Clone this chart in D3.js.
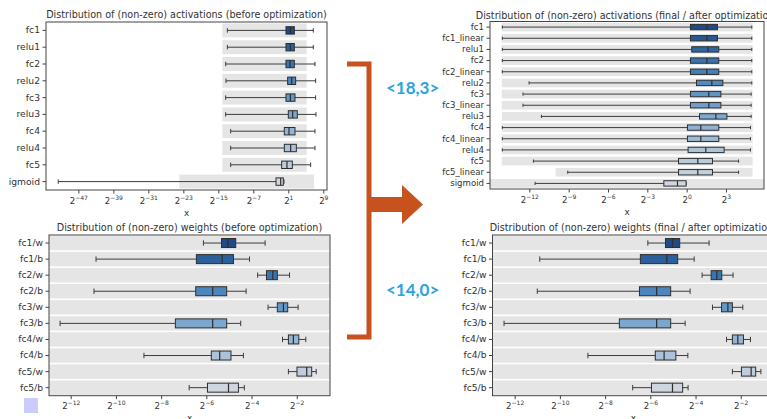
<!doctype html>
<html lang="en">
<head>
<meta charset="utf-8">
<title>non-zero activations / weights before and after optimization</title>
<script src="https://cdn.jsdelivr.net/npm/d3@7"></script>
<style>
  body { margin: 0; background: #fff; }
  svg { display: block; font-family: "DejaVu Sans", sans-serif; }
  .frame { fill: none; stroke: #444; stroke-width: 1; }
  .band { fill: #e5e5e5; }
  .whisker { stroke: #3c3c3c; stroke-width: 1; }
  .box { stroke: #2e2e2e; stroke-width: 1; }
  .median { stroke: #2e2e2e; stroke-width: 1.2; }
  .title, .xlabel { fill: #333; }
  .tick text { fill: #333; }
  .tick line { stroke: #444; }
</style>
</head>
<body>
<svg></svg>
<script>
var width = 767;
var height = 419;

// all values are log2 of the value (the axes are log base 2)

// activations, before optimization
var actBeforeNames = ["fc1", "relu1", "fc2", "relu2", "fc3", "relu3", "fc4", "relu4", "fc5", "igmoid"];
var actBeforeLo = [-12.93, -12.93, -13.32, -13.24, -13.32, -13.32, -12.17, -12.17, -12.17, -51.6];
var actBeforeQ1 = [0.47, 0.47, 0.47, 0.85, 0.47, 1.0, 0.09, 0.09, -0.52, -1.81];
var actBeforeMed = [1.47, 1.47, 1.39, 1.77, 1.47, 2.0, 1.16, 1.54, 0.7, -0.74];
var actBeforeQ3 = [2.38, 2.38, 2.38, 2.68, 2.53, 3.06, 2.53, 2.84, 1.92, -0.14];
var actBeforeHi = [6.72, 6.72, 7.1, 7.25, 7.25, 7.33, 7.1, 7.1, 6.11, 0.02];
var actBeforeRangeLo = [-14.08, -14.08, -14.08, -14.08, -14.08, -14.08, -14.08, -14.08, -14.08, -23.9];
var actBeforeRangeHi = [5.2, 5.2, 5.2, 5.2, 5.2, 5.2, 5.2, 5.2, 5.2, 6.9];
var actBeforeTicks = [-47, -39, -31, -23, -15, -7, 1, 9];

// activations, final / after optimization
var actAfterNames = ["fc1", "fc1_linear", "relu1", "fc2", "fc2_linear", "relu2", "fc3", "fc3_linear",
    "relu3", "fc4", "fc4_linear", "relu4", "fc5", "fc5_linear", "sigmoid"];
var actAfterLo = [-14.06, -14.06, -14.06, -14.06, -14.06, -12.02, -12.48, -12.48, -11.08, -14.06, -14.06, -14.06, -11.69, -9.07, -11.56];
var actAfterQ1 = [0.29, 0.29, 0.39, 0.29, 0.29, 0.75, 0.29, 0.29, 0.98, 0.06, 0.06, 0.11, -0.62, -0.62, -1.74];
var actAfterMed = [1.54, 1.54, 1.62, 1.54, 1.54, 1.92, 1.69, 1.69, 2.23, 1.08, 1.08, 1.46, 0.85, 0.85, -0.7];
var actAfterQ3 = [2.35, 2.35, 2.45, 2.45, 2.45, 2.76, 2.61, 2.61, 3.07, 2.45, 2.45, 2.86, 1.97, 1.97, -0.04];
var actAfterHi = [4.97, 4.97, 4.97, 4.97, 4.97, 4.97, 4.92, 4.92, 4.92, 4.87, 4.87, 4.87, 3.96, 3.96, -0.04];
var actAfterRangeLo = [-14.1, -14.1, -14.1, -14.1, -14.1, -14.1, -14.1, -14.1, -14.1, -14.1, -14.1, -14.1, -14.1, -10.0, -15.0];
var actAfterRangeHi = [5.03, 5.03, 5.03, 5.03, 5.03, 5.03, 5.03, 5.03, 5.03, 5.03, 5.03, 5.03, 5.03, 5.03, 5.9];
var actAfterTicks = [-12, -9, -6, -3, 0, 3];

// weights, before optimization
var wNames = ["fc1/w", "fc1/b", "fc2/w", "fc2/b", "fc3/w", "fc3/b", "fc4/w", "fc4/b", "fc5/w", "fc5/b"];
var wBeforeLo = [-6.13, -10.88, -3.73, -10.97, -3.27, -12.47, -2.63, -8.76, -2.37, -6.76];
var wBeforeQ1 = [-5.33, -6.44, -3.34, -6.47, -2.86, -7.37, -2.37, -5.78, -1.99, -5.95];
var wBeforeMed = [-5.05, -5.30, -3.06, -5.72, -2.59, -5.72, -2.15, -5.41, -1.56, -5.02];
var wBeforeQ3 = [-4.70, -4.80, -2.86, -5.10, -2.40, -5.10, -1.91, -4.91, -1.34, -4.58];
var wBeforeHi = [-3.40, -4.09, -2.32, -4.24, -1.94, -4.48, -1.60, -4.36, -1.14, -4.32];

// weights, final / after optimization
var wAfterLo = [-6.11, -10.89, -3.71, -11.0, -3.25, -12.47, -2.63, -8.76, -2.37, -6.78];
var wAfterQ1 = [-5.33, -6.44, -3.31, -6.48, -2.85, -7.37, -2.37, -5.78, -1.97, -5.95];
var wAfterMed = [-5.02, -5.27, -3.06, -5.72, -2.57, -5.72, -2.13, -5.39, -1.54, -5.02];
var wAfterQ3 = [-4.70, -4.79, -2.84, -5.10, -2.37, -5.10, -1.88, -4.87, -1.34, -4.57];
var wAfterHi = [-3.40, -4.06, -2.34, -4.24, -1.91, -4.46, -1.57, -4.34, -1.11, -4.33];
var wTicks = [-12, -10, -8, -6, -4, -2];

var annotations = ["<18,3>", "<14,0>"];

var svg = d3.select('svg').attr('width', width).attr('height', height);

var shade = d3.interpolateRgbBasis(["#1f4a85", "#3a7bb8", "#6d9fcb", "#a9c1d8", "#d0d6df"]);

function drawPanel(p) {
    var n = p.names.length;
    var x = d3.scaleLog().base(2)
        .domain([Math.pow(2, p.domain[0]), Math.pow(2, p.domain[1])])
        .range([p.left, p.right]);
    var y = d3.scaleBand().domain(p.names).range([p.top, p.bottom]);
    var step = y.bandwidth();
    var X = function (v) { return x(Math.pow(2, v)); };
    var bandH = step * p.bandFrac, boxH = step * p.boxFrac, capH = boxH * 0.6;

    var g = svg.append('g');
    g.append('clipPath').attr('id', 'clip' + p.id).append('rect')
        .attr('x', p.left).attr('y', p.top)
        .attr('width', p.right - p.left).attr('height', p.bottom - p.top);
    var plot = g.append('g').attr('clip-path', 'url(#clip' + p.id + ')');

    var rows = plot.selectAll('g.row')
        .data(p.names)
        .enter()
        .append('g')
        .attr('class', 'row')
        .attr('transform', function (d) { return 'translate(0,' + (y(d) + step / 2) + ')'; });

    rows.append('rect')
        .attr('class', 'band')
        .attr('x', function (d, i) { return p.rangeLo ? X(p.rangeLo[i]) : p.left; })
        .attr('width', function (d, i) {
            return p.rangeLo ? X(p.rangeHi[i]) - X(p.rangeLo[i]) : p.right - p.left;
        })
        .attr('y', -bandH / 2)
        .attr('height', bandH);

    // whiskers
    rows.append('line').attr('class', 'whisker')
        .attr('x1', function (d, i) { return X(p.lo[i]); })
        .attr('x2', function (d, i) { return X(p.q1[i]); });
    rows.append('line').attr('class', 'whisker')
        .attr('x1', function (d, i) { return X(p.q3[i]); })
        .attr('x2', function (d, i) { return X(p.hi[i]); });
    // caps
    rows.append('line').attr('class', 'whisker')
        .attr('x1', function (d, i) { return X(p.lo[i]); })
        .attr('x2', function (d, i) { return X(p.lo[i]); })
        .attr('y1', -capH / 2).attr('y2', capH / 2);
    rows.append('line').attr('class', 'whisker')
        .attr('x1', function (d, i) { return X(p.hi[i]); })
        .attr('x2', function (d, i) { return X(p.hi[i]); })
        .attr('y1', -capH / 2).attr('y2', capH / 2);

    rows.append('rect')
        .attr('class', 'box')
        .attr('x', function (d, i) { return X(p.q1[i]); })
        .attr('width', function (d, i) { return X(p.q3[i]) - X(p.q1[i]); })
        .attr('y', -boxH / 2)
        .attr('height', boxH)
        .attr('fill', function (d, i) { return shade(i / (n - 1)); });

    rows.append('line').attr('class', 'median')
        .attr('x1', function (d, i) { return X(p.med[i]); })
        .attr('x2', function (d, i) { return X(p.med[i]); })
        .attr('y1', -boxH / 2).attr('y2', boxH / 2);

    g.append('rect').attr('class', 'frame')
        .attr('x', p.left).attr('y', p.top)
        .attr('width', p.right - p.left).attr('height', p.bottom - p.top);

    var xAxis = g.append('g')
        .attr('transform', 'translate(0,' + p.bottom + ')')
        .call(d3.axisBottom(x)
            .tickValues(p.ticks.map(function (k) { return Math.pow(2, k); }))
            .tickSize(3.5)
            .tickFormat(''));
    xAxis.select('.domain').remove();
    xAxis.selectAll('.tick').each(function (d, i) {
        var k = p.ticks[i];
        var t = d3.select(this).select('text')
            .attr('font-family', '"DejaVu Sans", sans-serif')
            .attr('font-size', 8.6)
            .attr('y', 13.5)
            .attr('dy', null);
        t.append('tspan').text('2');
        t.append('tspan').attr('font-size', 6).attr('dy', -3.8)
            .text((k < 0 ? '\u2212' : '') + Math.abs(k));
    });

    var yAxis = g.append('g')
        .attr('transform', 'translate(' + p.left + ',0)')
        .call(d3.axisLeft(y).tickSize(3.5).tickPadding(2.5));
    yAxis.select('.domain').remove();
    yAxis.selectAll('.tick text')
        .attr('font-family', '"DejaVu Sans", sans-serif')
        .attr('font-size', p.labelSize);

    g.append('text').attr('class', 'title')
        .attr('x', (p.left + p.right) / 2).attr('y', p.titleY)
        .attr('text-anchor', 'middle').attr('font-size', 9.6)
        .text(p.title);
    g.append('text').attr('class', 'xlabel')
        .attr('x', (p.left + p.right) / 2).attr('y', p.xlabelY)
        .attr('text-anchor', 'middle').attr('font-size', 8.8)
        .text('x');
}

drawPanel({
    id: 1, names: actBeforeNames,
    lo: actBeforeLo, q1: actBeforeQ1, med: actBeforeMed, q3: actBeforeQ3, hi: actBeforeHi,
    rangeLo: actBeforeRangeLo, rangeHi: actBeforeRangeHi,
    domain: [-54.4, 9.85], ticks: actBeforeTicks,
    left: 46, right: 327, top: 22, bottom: 190,
    bandFrac: 0.83, boxFrac: 0.44, labelSize: 9.2,
    title: 'Distribution of (non-zero) activations (before optimization)', titleY: 18, xlabelY: 216
});

drawPanel({
    id: 2, names: actAfterNames,
    lo: actAfterLo, q1: actAfterQ1, med: actAfterMed, q3: actAfterQ3, hi: actAfterHi,
    rangeLo: actAfterRangeLo, rangeHi: actAfterRangeHi,
    domain: [-15.0, 5.9], ticks: actAfterTicks,
    left: 490, right: 764, top: 21.5, bottom: 189,
    bandFrac: 0.78, boxFrac: 0.48, labelSize: 8.6,
    title: 'Distribution of (non-zero) activations (final / after optimization)', titleY: 19, xlabelY: 215
});

drawPanel({
    id: 3, names: wNames,
    lo: wBeforeLo, q1: wBeforeQ1, med: wBeforeMed, q3: wBeforeQ3, hi: wBeforeHi,
    rangeLo: null, rangeHi: null,
    domain: [-12.96, -0.53], ticks: wTicks,
    left: 49, right: 330, top: 235, bottom: 395.7,
    bandFrac: 0.9, boxFrac: 0.56, labelSize: 9.2,
    title: 'Distribution of (non-zero) weights (before optimization)', titleY: 230.5, xlabelY: 421
});

drawPanel({
    id: 4, names: wNames,
    lo: wAfterLo, q1: wAfterQ1, med: wAfterMed, q3: wAfterQ3, hi: wAfterHi,
    rangeLo: null, rangeHi: null,
    domain: [-12.98, -0.53], ticks: wTicks,
    left: 492.5, right: 774, top: 235, bottom: 395.7,
    bandFrac: 0.9, boxFrac: 0.56, labelSize: 9.2,
    title: 'Distribution of (non-zero) weights (final / after optimization)', titleY: 230.5, xlabelY: 421
});

// bracket + arrow between the "before" and "after" panels
var orange = '#c8521d';
svg.append('path')
    .attr('d', 'M347,64H369V337H347')
    .attr('fill', 'none')
    .attr('stroke', orange)
    .attr('stroke-width', 5);
svg.append('path')
    .attr('d', 'M369,197H402V185L423,204.5L402,224V212H369Z')
    .attr('fill', orange);

svg.selectAll('text.note')
    .data(annotations)
    .enter()
    .append('text')
    .attr('class', 'note')
    .attr('x', 386)
    .attr('y', function (d, i) { return i === 0 ? 94 : 296; })
    .attr('font-family', 'Lato, "Open Sans", sans-serif')
    .attr('font-weight', 'bold')
    .attr('font-size', 17)
    .attr('fill', '#2aa3dc')
    .text(function (d) { return d; });

// small lavender square in the lower-left corner
svg.append('rect')
    .attr('x', 24).attr('y', 398)
    .attr('width', 14).attr('height', 15)
    .attr('fill', '#cbcbfd');
</script>
</body>
</html>
